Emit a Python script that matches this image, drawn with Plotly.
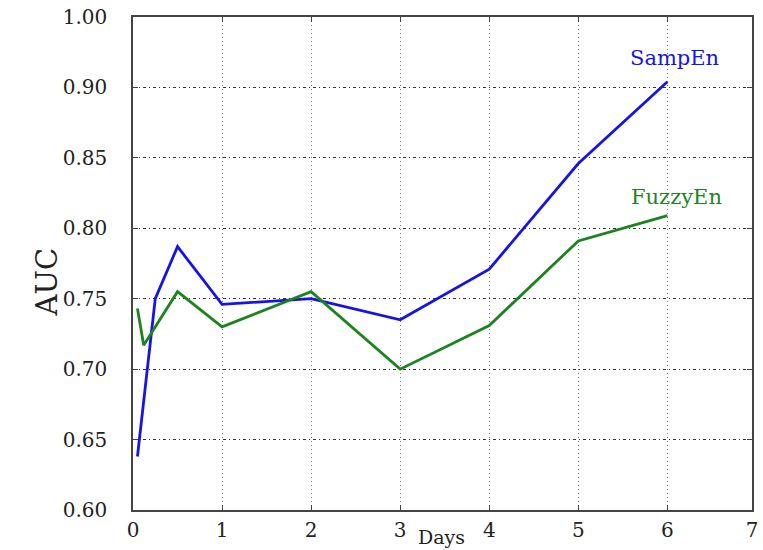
import plotly.graph_objects as go

# AUC over time for two entropy measures
samp_days = [0.05, 0.25, 0.5, 1, 2, 3, 4, 5, 6]
samp_auc = [0.638, 0.750, 0.787, 0.746, 0.750, 0.735, 0.771, 0.846, 0.904]

fuzzy_days = [0.05, 0.12, 0.5, 1, 2, 3, 4, 5, 6]
fuzzy_auc = [0.743, 0.717, 0.755, 0.730, 0.755, 0.700, 0.731, 0.791, 0.809]

x_tick_vals = [0, 1, 2, 3, 4, 5, 6, 6.95]
x_tick_text = ["0", "1", "2", "3", "4", "5", "6", "7"]
y_tick_vals = [0.60, 0.65, 0.70, 0.75, 0.80, 0.85, 0.90, 0.95]
y_tick_text = ["0.60", "0.65", "0.70", "0.75", "0.80", "0.85", "0.90", "1.00"]

BLUE = "#1414e6"
GREEN = "#1d841d"
FONT = "DejaVu Serif"

fig = go.Figure()
fig.add_trace(go.Scatter(x=samp_days, y=samp_auc, mode="lines", name="SampEn",
                         line=dict(color=BLUE, width=2.8)))
fig.add_trace(go.Scatter(x=fuzzy_days, y=fuzzy_auc, mode="lines", name="FuzzyEn",
                         line=dict(color=GREEN, width=2.8)))

fig.add_annotation(x=6.08, y=0.921, text="SampEn", showarrow=False,
                   font=dict(family=FONT, size=21, color=BLUE))
fig.add_annotation(x=6.10, y=0.822, text="FuzzyEn", showarrow=False,
                   font=dict(family=FONT, size=21, color=GREEN))
fig.add_annotation(x=3.46, y=0, yref="paper", yanchor="top", yshift=-14,
                   text="Days", showarrow=False,
                   font=dict(family=FONT, size=19, color="#222"))
fig.add_annotation(x=0, xref="paper", xshift=-105, y=0.4615, yref="paper",
                   text="AUC", textangle=-90, showarrow=False,
                   font=dict(family=FONT, size=29, color="#222"))

axis_common = dict(
    showline=True, linecolor="#444", linewidth=1.5, mirror="ticks",
    ticks="inside", ticklen=5, tickcolor="#444",
    tickfont=dict(family=FONT, size=20, color="#222"),
    showgrid=True, gridwidth=1, zeroline=False,
)

fig.update_xaxes(range=[0, 6.95], tickvals=x_tick_vals, ticktext=x_tick_text,
                 gridcolor="#777", griddash="1px,3px", ticklabelstandoff=1,
                 **axis_common)
fig.update_yaxes(range=[0.60, 0.95], tickvals=y_tick_vals, ticktext=y_tick_text,
                 gridcolor="#333", griddash="3px,3px,1px,3px", ticklabelstandoff=20,
                 **axis_common)

fig.update_layout(
    width=763, height=550,
    margin=dict(l=133, r=5, t=16, b=40),
    plot_bgcolor="white", paper_bgcolor="white",
    showlegend=False,
)

fig.write_html("out.html")
